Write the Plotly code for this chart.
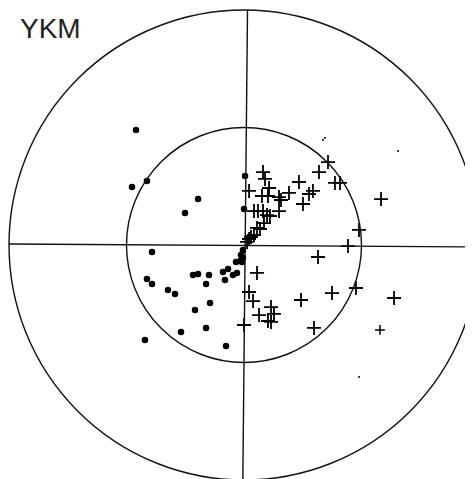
import plotly.graph_objects as go

# Units: inner circle radius = 1, outer circle radius = 2
dots_x = [-0.919, -0.953, -0.826, -0.391, -0.502, 0.009, 0.0, -0.783, -0.826, -0.783,
          -0.647, -0.587, -0.434, -0.391, -0.298, -0.323, -0.179, -0.136, -0.162, -0.094,
          -0.060, -0.068, -0.034, -0.026, -0.289, -0.417, -0.323, -0.536, -0.153, -0.843,
          -0.017, -0.009, -0.009]
dots_y = [0.979, 0.494, 0.545, 0.391, 0.272, 0.587, 0.306, -0.060, -0.289, -0.332,
          -0.383, -0.417, -0.255, -0.247, -0.255, -0.332, -0.230, -0.204, -0.298, -0.255,
          -0.238, -0.145, -0.136, -0.085, -0.494, -0.553, -0.706, -0.740, -0.860, -0.809,
          -0.145, -0.111, -0.043]

plus_x = [0.715, 0.638, 0.468, 0.774, 0.817, 0.162, 0.179, 0.043, 0.213, 0.153,
          0.204, 0.298, 0.315, 0.383, 0.587, 0.553, 0.502, 0.298, 0.085, 0.119,
          0.162, 0.196, 0.221, 0.170, 0.111, 0.085, 0.043, 0.026, 0.136, 0.060,
          1.166, 0.979, 0.885, 0.630, 0.111, 0.043, 0.077, 0.953, 0.749, 0.485,
          1.277, 0.230, 0.255, 0.128, 0.204, 0.230, 0.0, 0.596]
plus_y = [0.706, 0.621, 0.536, 0.528, 0.528, 0.621, 0.562, 0.460, 0.485, 0.417,
          0.417, 0.408, 0.383, 0.443, 0.460, 0.434, 0.349, 0.289, 0.289, 0.289,
          0.289, 0.255, 0.247, 0.187, 0.145, 0.085, 0.051, 0.026, 0.136, 0.068,
          0.391, 0.128, -0.009, -0.102, -0.238, -0.400, -0.477, -0.366, -0.409, -0.468,
          -0.451, -0.528, -0.587, -0.596, -0.647, -0.655, -0.681, -0.706]

small_plus_x = [1.157]
small_plus_y = [-0.723]

tiny_x = [0.672, 0.689, 1.311, 0.979]
tiny_y = [0.894, 0.911, 0.800, -1.123]

inner_r = 1.0
outer_r = 2.0

fig = go.Figure()

line_style = dict(color="#111", width=1.4)
fig.add_shape(type="circle", x0=-outer_r, y0=-outer_r, x1=outer_r, y1=outer_r, line=line_style)
fig.add_shape(type="circle", x0=-inner_r, y0=-inner_r, x1=inner_r, y1=inner_r, line=line_style)
fig.add_shape(type="line", x0=-outer_r, y0=0.008, x1=outer_r, y1=-0.017, line=line_style)
fig.add_shape(type="line", x0=0.03, y0=outer_r, x1=-0.01, y1=-outer_r, line=line_style)

fig.add_trace(go.Scatter(x=dots_x, y=dots_y, mode="markers",
                         marker=dict(symbol="circle", size=6.5, color="#000"),
                         showlegend=False, hoverinfo="skip"))
fig.add_trace(go.Scatter(x=plus_x, y=plus_y, mode="markers",
                         marker=dict(symbol="cross-thin", size=10,
                                     line=dict(color="#000", width=1.8)),
                         showlegend=False, hoverinfo="skip"))
fig.add_trace(go.Scatter(x=small_plus_x, y=small_plus_y, mode="markers",
                         marker=dict(symbol="cross-thin", size=7,
                                     line=dict(color="#000", width=1.5)),
                         showlegend=False, hoverinfo="skip"))
fig.add_trace(go.Scatter(x=tiny_x, y=tiny_y, mode="markers",
                         marker=dict(symbol="circle", size=2, color="#000"),
                         showlegend=False, hoverinfo="skip"))

# page body has an 8px margin, compensate in the axis ranges
off = 8
W, H = 473, 479
cx, cy, unit = 244, 245, 117.5

fig.add_annotation(x=(18 - off) / W, y=1 - (11 - off) / H, xref="paper", yref="paper",
                   text="YKM", showarrow=False, xanchor="left", yanchor="top",
                   font=dict(family="Liberation Sans, Arial", size=28, color="#222"))

fig.update_layout(
    width=W, height=H,
    margin=dict(l=0, r=0, t=0, b=0),
    paper_bgcolor="white", plot_bgcolor="white",
    xaxis=dict(range=[(off - cx) / unit, (W + off - cx) / unit], visible=False, fixedrange=True),
    yaxis=dict(range=[(cy - off - H) / unit, (cy - off) / unit], visible=False, fixedrange=True),
)

fig.write_html("out.html")
